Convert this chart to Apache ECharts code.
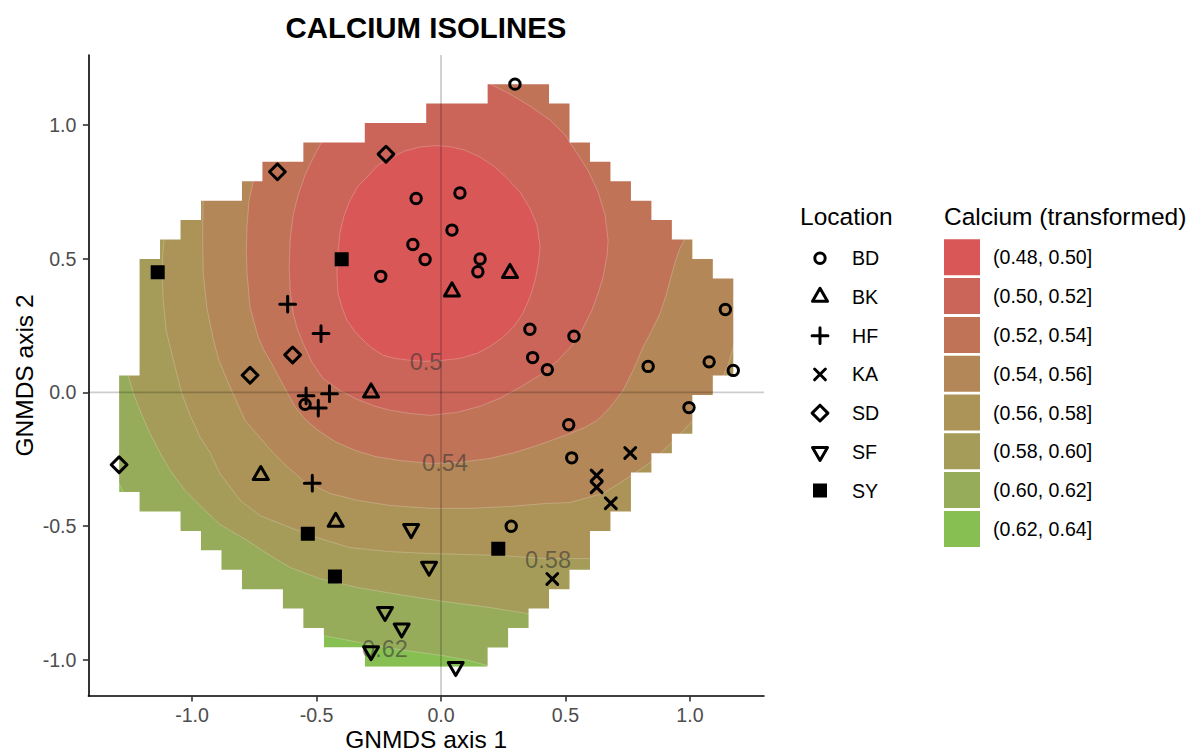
<!DOCTYPE html>
<html>
<head>
<meta charset="utf-8">
<title>Calcium isolines</title>
<script src="https://cdn.jsdelivr.net/npm/echarts@6.0.0/dist/echarts.min.js"></script>
<style>
  html, body { margin: 0; padding: 0; background: #ffffff; }
  #chart { width: 1191px; height: 753px; }
</style>
</head>
<body>
<div id="chart"></div>
<script>
// ---- Site scores on the two GNMDS axes, one array per location ----
const BD = [[0.297, 1.153], [-0.100, 0.725], [0.076, 0.746], [-0.113, 0.553], [0.044, 0.607],
            [-0.064, 0.497], [-0.242, 0.434], [0.157, 0.499], [0.148, 0.451], [0.357, 0.236],
            [0.534, 0.210], [0.368, 0.130], [0.427, 0.085], [1.142, 0.310], [1.077, 0.114],
            [0.832, 0.097], [1.174, 0.082], [0.996, -0.057], [0.513, -0.121], [0.525, -0.245],
            [0.282, -0.501], [-0.546, -0.045]];
const BK = [[0.277, 0.446], [0.044, 0.377], [-0.281, -0.001], [-0.724, -0.310], [-0.423, -0.485]];
const HF = [[-0.616, 0.330], [-0.482, 0.220], [-0.448, -0.005], [-0.542, -0.013], [-0.493, -0.059], [-0.517, -0.340]];
const KA = [[0.760, -0.227], [0.625, -0.311], [0.625, -0.355], [0.682, -0.415], [0.447, -0.698]];
const SD = [[-0.221, 0.891], [-0.657, 0.825], [-0.596, 0.140], [-0.767, 0.064], [-1.293, -0.271]];
const SF = [[-0.120, -0.511], [-0.048, -0.652], [-0.225, -0.821], [-0.158, -0.883], [-0.281, -0.968], [0.059, -1.027]];
const SY = [[-1.138, 0.449], [-0.399, 0.498], [-0.535, -0.529], [-0.426, -0.689], [0.230, -0.585]];

const locations = ['BD', 'BK', 'HF', 'KA', 'SD', 'SF', 'SY'];
const siteScores = { BD, BK, HF, KA, SD, SF, SY };

// ---- Calcium isolines of the fitted surface, [axis 1, axis 2] vertices ----
// 0.50 is a closed ring; the others run across the sampled area from one edge to the other.
const iso050 = [[-0.016, 0.923], [0.036, 0.919], [0.096, 0.906], [0.157, 0.880], [0.217, 0.843], [0.265, 0.801],
  [0.317, 0.749], [0.357, 0.689], [0.386, 0.625], [0.398, 0.543], [0.390, 0.476], [0.378, 0.419], [0.357, 0.356],
  [0.329, 0.296], [0.293, 0.247], [0.249, 0.206], [0.197, 0.172], [0.145, 0.146], [0.076, 0.127], [0.008, 0.120],
  [-0.064, 0.116], [-0.124, 0.120], [-0.185, 0.127], [-0.233, 0.139], [-0.277, 0.165], [-0.313, 0.195],
  [-0.349, 0.232], [-0.378, 0.270], [-0.398, 0.318], [-0.414, 0.371], [-0.418, 0.446], [-0.414, 0.521],
  [-0.406, 0.596], [-0.390, 0.659], [-0.365, 0.719], [-0.333, 0.772], [-0.293, 0.809], [-0.253, 0.850],
  [-0.205, 0.876], [-0.145, 0.903], [-0.084, 0.918]];
const iso052 = [[-0.434, 1.026], [-0.479, 0.937], [-0.514, 0.876], [-0.546, 0.813], [-0.574, 0.738], [-0.594, 0.663],
  [-0.606, 0.569], [-0.610, 0.476], [-0.606, 0.382], [-0.594, 0.296], [-0.578, 0.240], [-0.554, 0.184],
  [-0.518, 0.112], [-0.474, 0.052], [-0.406, 0.007], [-0.337, -0.026], [-0.265, -0.052], [-0.205, -0.067],
  [-0.124, -0.079], [-0.044, -0.086], [0.064, -0.075], [0.157, -0.052], [0.237, -0.022], [0.317, 0.019],
  [0.398, 0.064], [0.470, 0.120], [0.526, 0.176], [0.570, 0.240], [0.606, 0.307], [0.631, 0.371], [0.651, 0.431],
  [0.667, 0.513], [0.671, 0.569], [0.659, 0.663], [0.631, 0.749], [0.590, 0.831], [0.546, 0.895], [0.498, 0.963],
  [0.438, 1.019], [0.357, 1.071], [0.277, 1.116], [0.197, 1.154], [0.116, 1.195]];
const iso054 = [[-0.735, 0.869], [-0.754, 0.788], [-0.771, 0.719], [-0.779, 0.625], [-0.782, 0.532], [-0.779, 0.446],
  [-0.767, 0.319], [-0.751, 0.262], [-0.734, 0.207], [-0.711, 0.157], [-0.687, 0.120], [-0.655, 0.064],
  [-0.622, 0.007], [-0.590, -0.049], [-0.550, -0.097], [-0.494, -0.142], [-0.426, -0.184], [-0.345, -0.217],
  [-0.265, -0.240], [-0.165, -0.255], [-0.044, -0.266], [0.076, -0.262], [0.197, -0.247], [0.297, -0.225],
  [0.398, -0.195], [0.518, -0.154], [0.578, -0.131], [0.627, -0.105], [0.679, -0.056], [0.731, 0.007],
  [0.771, 0.082], [0.811, 0.169], [0.847, 0.232], [0.880, 0.296], [0.904, 0.363], [0.920, 0.419], [0.940, 0.487],
  [0.960, 0.539], [0.980, 0.577], [1.008, 0.637]];
const iso056 = [[-0.952, 0.775], [-0.956, 0.700], [-0.957, 0.625], [-0.957, 0.544], [-0.955, 0.445], [-0.941, 0.319],
  [-0.914, 0.195], [-0.892, 0.120], [-0.859, 0.045], [-0.827, -0.022], [-0.787, -0.105], [-0.745, -0.150],
  [-0.690, -0.210], [-0.630, -0.268], [-0.554, -0.330], [-0.446, -0.378], [-0.337, -0.404], [-0.205, -0.423],
  [-0.044, -0.434], [0.116, -0.434], [0.277, -0.427], [0.418, -0.416], [0.518, -0.412], [0.651, -0.378],
  [0.759, -0.315], [0.847, -0.258], [0.928, -0.187], [1.008, -0.109], [1.080, -0.022], [1.129, 0.052],
  [1.153, 0.101], [1.174, 0.169], [1.201, 0.232]];
const iso058 = [[-1.104, 0.625], [-1.112, 0.572], [-1.118, 0.513], [-1.120, 0.446], [-1.116, 0.345], [-1.104, 0.232],
  [-1.075, 0.120], [-1.041, -0.005], [-1.008, -0.086], [-0.968, -0.167], [-0.928, -0.225], [-0.888, -0.304],
  [-0.807, -0.404], [-0.727, -0.461], [-0.606, -0.506], [-0.486, -0.547], [-0.365, -0.581], [-0.205, -0.596],
  [-0.044, -0.603], [0.116, -0.607], [0.237, -0.610], [0.357, -0.618], [0.430, -0.622], [0.518, -0.622],
  [0.596, -0.622], [0.639, -0.618]];
const iso060 = [[-1.265, 0.120], [-1.256, 0.064], [-1.245, 0.026], [-1.233, -0.011], [-1.201, -0.086], [-1.169, -0.154],
  [-1.129, -0.225], [-1.088, -0.292], [-1.028, -0.367], [-0.968, -0.423], [-0.888, -0.494], [-0.779, -0.554],
  [-0.687, -0.610], [-0.606, -0.655], [-0.486, -0.697], [-0.337, -0.730], [-0.165, -0.757], [0.008, -0.782],
  [0.197, -0.805], [0.357, -0.829], [0.418, -0.839]];
const iso062 = [[-1.321, -0.292], [-1.293, -0.341], [-1.276, -0.373], [-1.209, -0.461], [-1.045, -0.554],
  [-0.964, -0.614], [-0.881, -0.685], [-0.798, -0.760], [-0.636, -0.835], [-0.553, -0.899], [-0.473, -0.910],
  [-0.386, -0.925], [-0.298, -0.941], [-0.165, -0.963], [0.009, -0.985], [0.116, -1.004], [0.184, -1.022],
  [0.237, -1.041]];

const isoLevels = [0.50, 0.52, 0.54, 0.56, 0.58, 0.60, 0.62];
const isoLines = [iso050, iso052, iso054, iso056, iso058, iso060, iso062];

// ---- Calcium classes ----
const bandLabels = ['(0.48, 0.50]', '(0.50, 0.52]', '(0.52, 0.54]', '(0.54, 0.56]',
                    '(0.56, 0.58]', '(0.58, 0.60]', '(0.60, 0.62]', '(0.62, 0.64]'];
const bandColors = ['#D95757', '#CC6559', '#C17358', '#B48758', '#AC9358', '#A49C58', '#97AC5A', '#88BF52'];

// Isoline labels: [axis 1, axis 2, text]
const contourLabels = [[-0.060, 0.113, '0.5'], [0.016, -0.266, '0.54'], [0.430, -0.629, '0.58'], [-0.225, -0.959, '0.62']];

const axisTicks = [-1.0, -0.5, 0.0, 0.5, 1.0];
const refLine = [0, 0];

// ---------------------------------------------------------------------
const FONT = '"Liberation Sans", Arial, Helvetica, sans-serif';
const GRID_N = 31;

const allSites = locations.flatMap(k => siteScores[k]);
const xMin = Math.min(...allSites.map(p => p[0])), xMax = Math.max(...allSites.map(p => p[0]));
const yMin = Math.min(...allSites.map(p => p[1])), yMax = Math.max(...allSites.map(p => p[1]));
const xPad = (xMax - xMin) * 0.05, yPad = (yMax - yMin) * 0.05;

// Prediction grid spanning the site scores
const gridX = Array.from({ length: GRID_N }, (_, i) => xMin + (xMax - xMin) * i / (GRID_N - 1));
const gridY = Array.from({ length: GRID_N }, (_, i) => yMin + (yMax - yMin) * i / (GRID_N - 1));

function convexHull(pts) {
  const p = pts.slice().sort((a, b) => a[0] - b[0] || a[1] - b[1]);
  const cross = (o, a, b) => (a[0] - o[0]) * (b[1] - o[1]) - (a[1] - o[1]) * (b[0] - o[0]);
  const lower = [], upper = [];
  for (const q of p) {
    while (lower.length >= 2 && cross(lower[lower.length - 2], lower[lower.length - 1], q) <= 0) lower.pop();
    lower.push(q);
  }
  for (let i = p.length - 1; i >= 0; i--) {
    const q = p[i];
    while (upper.length >= 2 && cross(upper[upper.length - 2], upper[upper.length - 1], q) <= 0) upper.pop();
    upper.push(q);
  }
  lower.pop(); upper.pop();
  return lower.concat(upper);
}
function pointInPoly(poly, x, y) {
  let c = false;
  for (let i = 0, j = poly.length - 1; i < poly.length; j = i++) {
    const xi = poly[i][0], yi = poly[i][1], xj = poly[j][0], yj = poly[j][1];
    if (((yi > y) !== (yj > y)) && (x < (xj - xi) * (y - yi) / (yj - yi) + xi)) c = !c;
  }
  return c;
}

// Surface is kept inside the site hull pushed out by one grid step
const hull = convexHull(allSites);
const hmx = hull.reduce((s, p) => s + p[0], 0) / hull.length;
const hmy = hull.reduce((s, p) => s + p[1], 0) / hull.length;
const stepX = (xMax - xMin) / (GRID_N - 1), stepY = (yMax - yMin) / (GRID_N - 1);
const hullOut = hull.map(([x, y]) => [x + Math.sign(x - hmx) * stepX, y + Math.sign(y - hmy) * stepY]);
const nodeIn = gridY.map(y => gridX.map(x => pointInPoly(hullOut, x, y)));

const cellRows = [];
for (let j = 0; j < GRID_N - 1; j++) {
  let a = -1, b = -1;
  for (let i = 0; i < GRID_N - 1; i++) {
    if (nodeIn[j][i] && nodeIn[j][i + 1] && nodeIn[j + 1][i] && nodeIn[j + 1][i + 1]) {
      if (a < 0) a = i;
      b = i;
    }
  }
  if (a >= 0) cellRows.push({ j, a, b });
}
// Staircase outline of the covered cells
const maskRing = [];
cellRows.forEach(r => { maskRing.push([gridX[r.b + 1], gridY[r.j]], [gridX[r.b + 1], gridY[r.j + 1]]); });
for (let k = cellRows.length - 1; k >= 0; k--) {
  const r = cellRows[k];
  maskRing.push([gridX[r.a], gridY[r.j + 1]], [gridX[r.a], gridY[r.j]]);
}

// Region below each level: the isoline closed around the upper right, well outside the panel
const FAR = 5;
function closeAround(line) {
  const first = line[0], last = line[line.length - 1];
  return line.concat([[FAR, last[1]], [FAR, FAR], [first[0], FAR]]);
}
const bandRings = bandLabels.map((_, k) =>
  k === bandLabels.length - 1 ? maskRing : (k === 0 ? iso050 : closeAround(isoLines[k])));

// ---- symbols (20 px frame, centred at 10,10) ----
const PAD = 'M0 0M20 20';
const symbolPaths = {
  BD: 'path://' + PAD + 'M4.8 10A5.2 5.2 0 1 1 15.2 10A5.2 5.2 0 1 1 4.8 10Z',
  BK: 'path://' + PAD + 'M10 1.3L17.5 14.35L2.5 14.35Z',
  HF: 'path://' + PAD + 'M2.1 10L17.9 10M10 2.1L10 17.9',
  KA: 'path://' + PAD + 'M4.6 4.6L15.4 15.4M15.4 4.6L4.6 15.4',
  SD: 'path://' + PAD + 'M10 2.1L17.9 10L10 17.9L2.1 10Z',
  SF: 'path://' + PAD + 'M10 18.7L17.5 5.65L2.5 5.65Z',
  SY: 'path://' + PAD + 'M4.5 4.5L15.5 4.5L15.5 15.5L4.5 15.5Z'
};
const STROKE = 3;
function markStyle(name) {
  return name === 'SY'
    ? { color: '#000', borderColor: '#000', borderWidth: STROKE, borderJoin: 'miter', opacity: 1 }
    : { color: 'rgba(0,0,0,0)', borderColor: '#000', borderWidth: STROKE, borderJoin: 'round', borderCap: 'round', opacity: 1 };
}

const series = [];
// Filled classes: highest first, each lower class painted on top of it
for (let k = bandLabels.length - 1; k >= 0; k--) {
  series.push({
    type: 'custom', name: bandLabels[k], coordinateSystem: 'cartesian2d', clip: true, silent: true, z: 1,
    itemStyle: { color: bandColors[k] },
    data: [[0, 0]],
    renderItem: (params, api) => ({
      type: 'polygon',
      shape: { points: bandRings[k].map(p => api.coord(p)) },
      style: k === bandLabels.length - 1
        ? { fill: bandColors[k] }
        : { fill: bandColors[k], stroke: 'rgba(255,255,255,0.28)', lineWidth: 0.8 }
    })
  });
}
// Blank out everything outside the covered cells (a little past the panel edge)
series.push({
  type: 'custom', coordinateSystem: 'cartesian2d', clip: false, silent: true, z: 1,
  data: [[0, 0]],
  renderItem: (params, api) => {
    const cs = params.coordSys;
    const inner = maskRing.map(p => api.coord(p));
    let area = 0;
    for (let i = 0; i < inner.length; i++) {
      const a = inner[i], b = inner[(i + 1) % inner.length];
      area += a[0] * b[1] - b[0] * a[1];
    }
    if (area > 0) inner.reverse(); // outer box below is drawn with positive area
    const m = 4;
    const x0 = cs.x - m, y0 = cs.y - m, x1 = cs.x + cs.width + m, y1 = cs.y + cs.height + m;
    let d = `M${x0} ${y0}L${x1} ${y0}L${x1} ${y1}L${x0} ${y1}Z`;
    d += 'M' + inner.map(p => p[0].toFixed(2) + ' ' + p[1].toFixed(2)).join('L') + 'Z';
    return {
      type: 'path',
      shape: { pathData: d, x: x0, y: y0, width: x1 - x0, height: y1 - y0, layout: 'cover' },
      style: { fill: '#ffffff' }
    };
  }
});
// Reference lines through the origin
series.push({
  type: 'custom', coordinateSystem: 'cartesian2d', clip: true, silent: true, z: 2,
  data: [refLine],
  renderItem: (params, api) => {
    const cs = params.coordSys;
    const o = api.coord([api.value(0), api.value(1)]);
    const st = { stroke: 'rgba(0,0,0,0.2)', lineWidth: 1.8 };
    return {
      type: 'group', children: [
        { type: 'line', shape: { x1: o[0], y1: cs.y, x2: o[0], y2: cs.y + cs.height }, style: st },
        { type: 'line', shape: { x1: cs.x, y1: o[1], x2: cs.x + cs.width, y2: o[1] }, style: st }
      ]
    };
  }
});
// Isoline labels
series.push({
  type: 'custom', coordinateSystem: 'cartesian2d', clip: false, silent: true, z: 3,
  data: contourLabels,
  renderItem: (params, api) => {
    const p = api.coord([api.value(0), api.value(1)]);
    return {
      type: 'text', x: p[0], y: p[1],
      style: {
        text: contourLabels[params.dataIndex][2], fill: 'rgba(50,50,50,0.56)',
        fontSize: 23.6, fontFamily: FONT, align: 'center', verticalAlign: 'middle'
      }
    };
  }
});
// Sites
locations.forEach(name => {
  series.push({
    type: 'scatter', name, data: siteScores[name], symbol: symbolPaths[name], symbolSize: 20,
    itemStyle: markStyle(name), z: 5, silent: true, emphasis: { disabled: true }
  });
});

const axisCommon = {
  type: 'value', z: 10,
  nameLocation: 'middle',
  nameMoveOverlap: false,
  nameTextStyle: { fontFamily: FONT, fontSize: 24.5, color: '#000', lineHeight: 24 },
  axisLine: { show: true, onZero: false, lineStyle: { color: '#000', width: 1.6 } },
  axisTick: { show: true, customValues: axisTicks, length: 5.5, lineStyle: { color: '#333', width: 1.6 } },
  axisLabel: { customValues: axisTicks, formatter: v => Number(v).toFixed(1), fontFamily: FONT, fontSize: 19.6, color: '#4D4D4D' },
  splitLine: { show: false }
};

// Location keys: icon box includes half the stroke on each side
const keyH = 20 + STROKE;
const chart = echarts.init(document.getElementById('chart'), null, { renderer: 'svg', width: 1191, height: 753 });
chart.setOption({
  backgroundColor: '#ffffff',
  animation: false,
  title: [
    { text: 'CALCIUM ISOLINES', left: 426, top: 13, textAlign: 'center', padding: 0,
      textStyle: { fontFamily: FONT, fontSize: 29.4, fontWeight: 'bold', color: '#000' } },
    { text: 'Location', left: 800, top: 203.5, padding: 0,
      textStyle: { fontFamily: FONT, fontSize: 24.5, fontWeight: 'normal', color: '#000' } },
    { text: 'Calcium (transformed)', left: 944, top: 203.5, padding: 0,
      textStyle: { fontFamily: FONT, fontSize: 24.5, fontWeight: 'normal', color: '#000' } }
  ],
  legend: [
    {
      orient: 'vertical', left: 810 - STROKE / 2, top: 258.3 - 10 - STROKE / 2, padding: 0,
      itemWidth: 54, itemHeight: 20, itemGap: 38.7 - keyH,
      selectedMode: false,
      textStyle: { fontFamily: FONT, fontSize: 19.6, color: '#000', lineHeight: 20 },
      data: locations.map(name => ({ name, icon: symbolPaths[name], itemStyle: markStyle(name) }))
    },
    {
      orient: 'vertical', left: 944, top: 239.3, padding: 0, itemWidth: 52, itemHeight: 36, itemGap: 2.8,
      selectedMode: false,
      textStyle: { fontFamily: FONT, fontSize: 19.6, color: '#000', lineHeight: 36 },
      data: bandLabels.map((name, k) => ({
        name, icon: 'path://M0 0H10V10H0Z',
        itemStyle: { color: bandColors[k], borderWidth: 0, opacity: 1 }
      }))
    }
  ],
  grid: { left: 88.4, right: 1191 - 764, top: 55, bottom: 753 - 696, containLabel: false, outerBoundsMode: 'none' },
  xAxis: Object.assign({}, axisCommon, {
    min: xMin - xPad, max: xMax + xPad, name: 'GNMDS axis 1', nameGap: 31.5,
    axisLabel: Object.assign({}, axisCommon.axisLabel, { margin: 8.5 })
  }),
  yAxis: Object.assign({}, axisCommon, {
    min: yMin - yPad, max: yMax + yPad, name: 'GNMDS axis 2', nameGap: 52,
    axisLabel: Object.assign({}, axisCommon.axisLabel, { margin: 12 })
  }),
  series
});
</script>
</body>
</html>
